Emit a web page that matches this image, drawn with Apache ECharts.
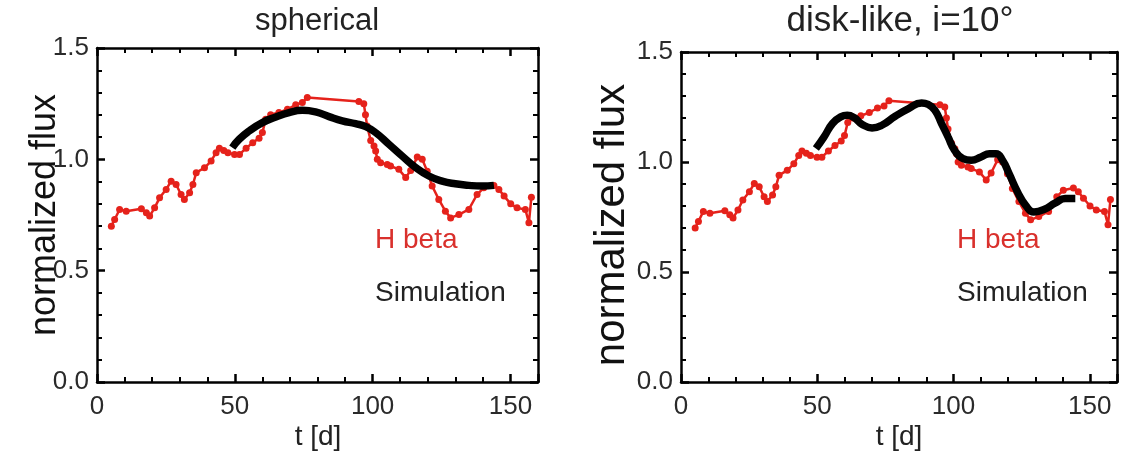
<!DOCTYPE html>
<html>
<head>
<meta charset="utf-8">
<script src="https://cdn.jsdelivr.net/npm/echarts@6/dist/echarts.min.js"></script>
<style>
html,body{margin:0;padding:0;background:#fff;}
#c{width:1124px;height:457px;}
</style>
</head>
<body>
<div id="c"></div>
<script>
// Observed H beta light curve: [t (days), normalized flux]
var hbetaT = [5.2,6.4,8.2,10.6,16.1,17.9,19.1,20.9,22.7,25.1,26.9,28.7,30.5,31.7,33.6,34.8,36.0,39.0,41.4,43.2,44.4,46.0,47.5,49.9,51.7,54.1,56.5,58.8,60.0,61.2,63.0,66.0,69.1,72.1,74.5,76.3,95.0,96.8,97.4,98.0,99.3,100.5,101.1,101.7,102.9,105.3,106.5,109.5,112.0,113.8,116.2,118.0,119.8,121.6,124.0,126.4,128.3,131.3,134.9,137.9,140.3,144.0,145.8,147.7,150.1,152.4,155.4,156.7,157.6];
var hbetaF = [0.70,0.73,0.775,0.767,0.778,0.76,0.745,0.782,0.827,0.865,0.902,0.887,0.842,0.82,0.85,0.887,0.94,0.962,0.992,1.03,1.05,1.04,1.03,1.022,1.022,1.05,1.075,1.095,1.12,1.18,1.20,1.21,1.225,1.245,1.255,1.278,1.26,1.25,1.20,1.15,1.085,1.06,1.037,1.0,0.985,0.977,0.97,0.955,0.918,0.95,1.01,1.0,0.947,0.88,0.82,0.767,0.737,0.752,0.775,0.842,0.872,0.882,0.865,0.835,0.80,0.782,0.775,0.715,0.83];

// Simulation, spherical BLR
var sphT = [49.1,51.6,55.2,60.0,64.9,69.7,74.5,79.3,84.2,89.0,93.8,97.5,101.1,105.9,110.7,115.6,120.4,125.2,130.0,134.9,139.7,144.0];
var sphF = [1.053,1.09,1.127,1.165,1.19,1.21,1.22,1.213,1.192,1.173,1.16,1.147,1.12,1.068,1.015,0.963,0.925,0.902,0.89,0.883,0.88,0.883];

// Simulation, disk-like BLR, i=10 deg
var diskT = [49.5,52.5,55.6,58.6,61.0,63.5,66.5,70.1,73.7,78.6,83.5,88.3,90.7,93.2,95.6,98.0,100.4,103.5,106.5,110.1,113.2,115.6,118.0,120.4,123.5,126.5,129.5,133.2,137.4,141.0,144.7];
var diskF = [1.061,1.114,1.175,1.205,1.212,1.202,1.171,1.155,1.167,1.208,1.243,1.268,1.262,1.235,1.175,1.114,1.053,1.015,1.008,1.023,1.038,1.038,1.008,0.947,0.864,0.803,0.773,0.784,0.814,0.834,0.834];

var titles = ['spherical', 'disk-like, i=10\u00b0'];
var yName = 'normalized flux';
var xName = 't [d]';
var legendObs = 'H beta';
var legendSim = 'Simulation';

function pairs(t, f){ return t.map(function(v,i){ return [v, f[i]]; }); }

var FONT = 'Liberation Sans, Arial, sans-serif';
var RED = '#e5221b';

function xAxisCfg(grid, pos, labels){
  return {
    type:'value', gridIndex:grid, position:pos, min:0, max:160, interval:50,
    axisLine:{show:true, onZero:false, lineStyle:{color:'#000', width:2.5}},
    axisTick:{show:true, inside:true, length:8, lineStyle:{color:'#000', width:2.5}},
    minorTick:{show:true, splitNumber:5, length:5, lineStyle:{color:'#000', width:2}},
    splitLine:{show:false},
    axisLabel:{show:labels, fontSize:26, color:'#2a2a2a', fontFamily:FONT, margin:12}
  };
}
function yAxisCfg(grid, pos, labels){
  return {
    type:'value', gridIndex:grid, position:pos, min:0, max:1.5, interval:0.5,
    axisLine:{show:true, onZero:false, lineStyle:{color:'#000', width:2.5}},
    axisTick:{show:true, inside:true, length:8, lineStyle:{color:'#000', width:2.5}},
    minorTick:{show:true, splitNumber:5, length:5, lineStyle:{color:'#000', width:2}},
    splitLine:{show:false},
    axisLabel:{show:labels, fontSize:26, color:'#2a2a2a', fontFamily:FONT, margin:8,
      formatter:function(v){ return v.toFixed(1); }}
  };
}

var chart = echarts.init(document.getElementById('c'), null, {renderer:'canvas'});
var obs = pairs(hbetaT, hbetaF);

var option = {
  animation:false,
  backgroundColor:'#fff',
  grid:[
    {left:97, top:48, width:441, height:334},
    {left:681, top:52, width:436, height:330}
  ],
  xAxis:[ xAxisCfg(0,'bottom',true), xAxisCfg(0,'top',false), xAxisCfg(1,'bottom',true), xAxisCfg(1,'top',false) ],
  yAxis:[ yAxisCfg(0,'left',true), yAxisCfg(0,'right',false), yAxisCfg(1,'left',true), yAxisCfg(1,'right',false) ],
  series:[
    {type:'line', xAxisIndex:0, yAxisIndex:0, data:obs, symbol:'circle', symbolSize:7, showAllSymbol:true,
      lineStyle:{color:RED, width:2.5}, itemStyle:{color:RED}, z:2},
    {type:'line', xAxisIndex:0, yAxisIndex:0, data:pairs(sphT, sphF), symbol:'none', smooth:true,
      lineStyle:{color:'#000', width:7.5}, z:3},
    {type:'line', xAxisIndex:2, yAxisIndex:2, data:obs, symbol:'circle', symbolSize:7, showAllSymbol:true,
      lineStyle:{color:RED, width:2.5}, itemStyle:{color:RED}, z:2},
    {type:'line', xAxisIndex:2, yAxisIndex:2, data:pairs(diskT, diskF), symbol:'none', smooth:true,
      lineStyle:{color:'#000', width:7.5}, z:3}
  ],
  graphic:[
    {type:'text', x:317, y:21, style:{text:titles[0], font:'31px '+FONT, fill:'#222', align:'center', verticalAlign:'middle'}},
    {type:'text', x:900, y:21, style:{text:titles[1], font:'35px '+FONT, fill:'#222', align:'center', verticalAlign:'middle'}},
    {type:'text', x:318, y:437, style:{text:xName, font:'28px '+FONT, fill:'#222', align:'center', verticalAlign:'middle'}},
    {type:'text', x:899, y:437, style:{text:xName, font:'28px '+FONT, fill:'#222', align:'center', verticalAlign:'middle'}},
    {type:'text', x:45, y:215, rotation:Math.PI/2, style:{text:yName, font:'36px '+FONT, fill:'#111', align:'center', verticalAlign:'middle'}},
    {type:'text', x:612, y:225, rotation:Math.PI/2, style:{text:yName, font:'42px '+FONT, fill:'#111', align:'center', verticalAlign:'middle'}},
    {type:'text', x:375, y:240, style:{text:legendObs, font:'28px '+FONT, fill:'#d9302c', align:'left', verticalAlign:'middle'}},
    {type:'text', x:375, y:293, style:{text:legendSim, font:'28px '+FONT, fill:'#222', align:'left', verticalAlign:'middle'}},
    {type:'text', x:957, y:240, style:{text:legendObs, font:'28px '+FONT, fill:'#d9302c', align:'left', verticalAlign:'middle'}},
    {type:'text', x:957, y:293, style:{text:legendSim, font:'28px '+FONT, fill:'#222', align:'left', verticalAlign:'middle'}}
  ]
};
chart.setOption(option);
</script>
</body>
</html>
